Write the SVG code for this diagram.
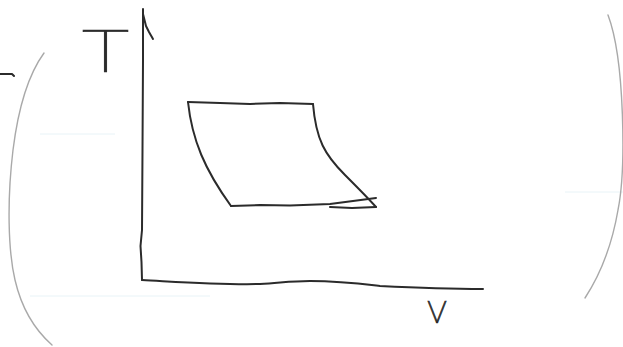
<svg xmlns="http://www.w3.org/2000/svg" width="623" height="347" viewBox="0 0 623 347">
  <style>
    .ink { fill: none; stroke: #2b2b2b; stroke-width: 2; stroke-linecap: round; stroke-linejoin: round; }
    .faint { fill: none; stroke: #a9a9a9; stroke-width: 1.4; stroke-linecap: round; }
    .rule { fill: none; stroke: #e8f3f7; stroke-width: 1; }
    .hand { font-family: Roboto, Lato, Inter, "DejaVu Sans", sans-serif; font-weight: 100; fill: #2b2b2b; stroke: #2b2b2b; stroke-width: 0.7; }
  </style>
  <rect width="623" height="347" fill="#ffffff"/>
  <g id="paper-rules">
    <path class="rule" d="M30,296 L210,296"/>
    <path class="rule" d="M40,134 L115,134"/>
    <path class="rule" d="M565,192 L623,192"/>
  </g>
  <g id="brackets">
    <path class="faint" d="M44,53 C28,75 18,110 13,150 C7,200 8,250 15,280 C22,310 35,330 52,345"/>
    <path class="faint" d="M608,15 C625,60 626,170 618,210 C612,245 600,275 585,298"/>
    <path class="ink" d="M0,74 L12,74 L14,76" stroke-width="1.5"/>
  </g>
  <g id="axes">
    <path class="ink" d="M143,9 L143,60 L142.5,150 L142,230 L140.5,246 L141.5,262 L142,280"/>
    <path class="ink" d="M142,280 C180,282 220,285 260,284 C280,283 290,281 310,281 C340,281 355,283 380,286 C420,288 450,289 483,289"/>
    <path class="ink" d="M143,14 L146,26 L149,32 L153,39" stroke-width="1.2" stroke="#555"/>
  </g>
  <g id="cycle">
    <path class="ink" d="M188,102 L220,103 L250,104 L280,103 L313,104"/>
    <path class="ink" d="M188,102 C192,140 205,170 231,206"/>
    <path class="ink" d="M313,104 C316,140 325,155 345,175 C360,190 368,198 376,207"/>
    <path class="ink" d="M231,206 L260,205 L290,205.5 L330,204 L376,198"/>
    <path class="ink" d="M330,207 L352,208 L376,207"/>
  </g>
  <g id="labels">
    <text class="hand" x="81" y="72" font-size="60" textLength="49" lengthAdjust="spacingAndGlyphs">T</text>
    <text class="hand" x="427" y="323" font-size="40" textLength="20" lengthAdjust="spacingAndGlyphs">v</text>
  </g>
</svg>
